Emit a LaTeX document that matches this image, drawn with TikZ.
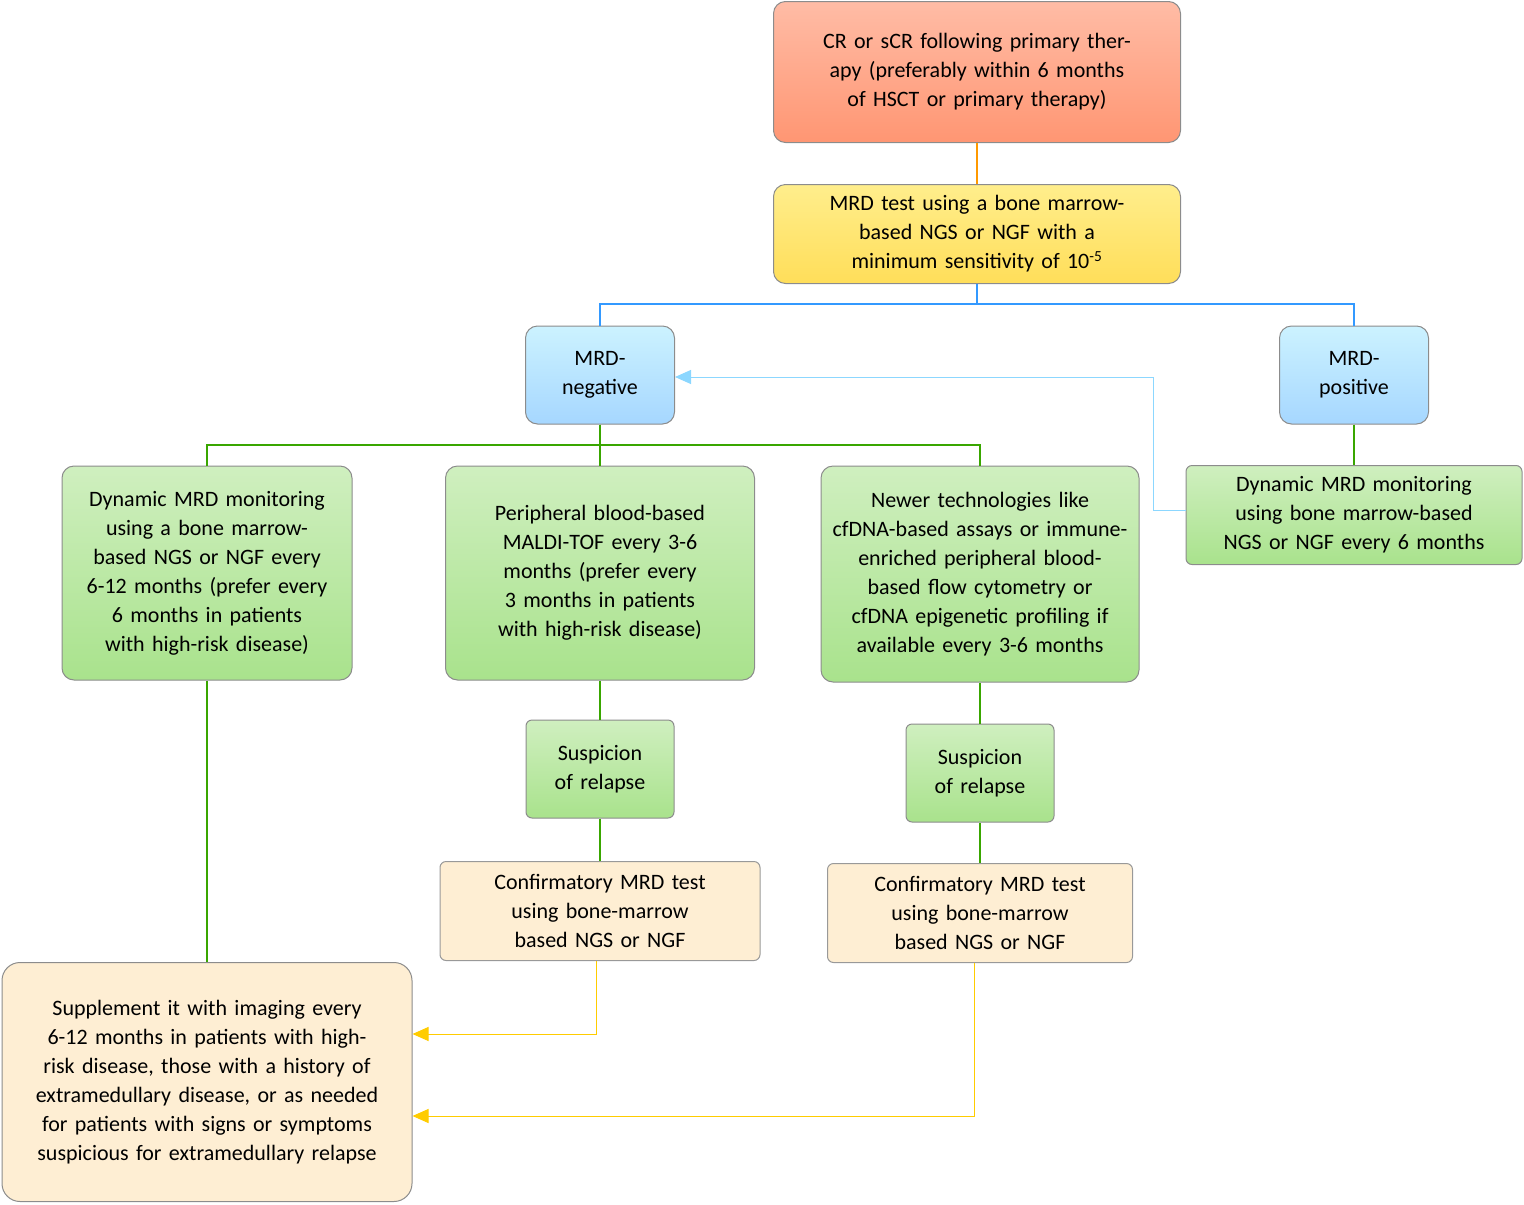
\documentclass[tikz,border=0pt]{standalone}
\usepackage{fontspec}
\setmainfont{Carlito}
\usetikzlibrary{arrows.meta}
\begin{document}
\begin{tikzpicture}[x=1pt,y=-1pt,
 box/.style={draw=black!45,line width=1pt,rounded corners=12pt,align=center,inner sep=0pt,
   font=\fontsize{22}{29}\selectfont},
 redb/.style={box,top color=red!50!orange!35!white,bottom color=red!50!orange!55!white},
 yelb/.style={box,top color=orange!30!yellow!45!white,bottom color=orange!40!yellow!65!white},
 blub/.style={box,top color=blue!25!cyan!20!white,bottom color=blue!45!cyan!35!white},
 grnb/.style={box,top color=green!50!olive!25!white,bottom color=green!50!olive!45!white},
 creb/.style={box,rounded corners=6pt,fill=yellow!20!orange!15!white,draw=black!40},
 gl/.style={draw=green!50!black!70!lime,line width=1.5pt},
 bl/.style={draw=blue!50!cyan!80,line width=1.5pt},
 yl/.style={draw=orange!40!yellow,line width=1pt,-{Triangle[width=14pt,length=16pt]}}]
\useasboundingbox (0,0) rectangle (1524,1205);
\node[redb,minimum width=407pt,minimum height=141pt,text width=310pt] (a) at (977,72) {CR or sCR following primary therapy (preferably within 6 months of HSCT or primary therapy)};
\node[yelb,minimum width=407pt,minimum height=99pt,text width=390pt] (b) at (977,234) {MRD test using a bone marrow-based NGS or NGF with a minimum sensitivity of 10\textsuperscript{-5}};
\node[blub,minimum width=149pt,minimum height=98pt,text width=120pt] (neg) at (600,375) {MRD-\\negative};
\node[blub,minimum width=149pt,minimum height=98pt,text width=120pt] (pos) at (1354,375) {MRD-\\positive};
\node[grnb,minimum width=290pt,minimum height=214pt,text width=270pt] (d1) at (207,573) {Dynamic MRD monitoring using a bone marrow-based NGS or NGF every 6-12 months (prefer every 6 months in patients with high-risk disease)};
\node[grnb,minimum width=309pt,minimum height=214pt,text width=270pt] (p) at (600,573) {Peripheral blood-based MALDI-TOF every 3-6 months (prefer every 3 months in patients with high-risk disease)};
\node[grnb,minimum width=318pt,minimum height=216pt,text width=300pt] (n) at (980,574) {Newer technologies like cfDNA-based assays or immune-enriched peripheral blood-based flow cytometry or cfDNA epigenetic profiling if available every 3-6 months};
\node[grnb,rounded corners=6pt,minimum width=336pt,minimum height=99pt,text width=320pt] (d2) at (1354,515) {Dynamic MRD monitoring using bone marrow-based NGS or NGF every 6 months};
\node[grnb,rounded corners=6pt,minimum width=148pt,minimum height=98pt,text width=140pt] (s1) at (600,769) {Suspicion of relapse};
\node[grnb,rounded corners=6pt,minimum width=148pt,minimum height=98pt,text width=140pt] (s2) at (980,773) {Suspicion of relapse};
\node[creb,minimum width=320pt,minimum height=99pt,text width=300pt] (c1) at (600,911) {Confirmatory MRD test using bone-marrow based NGS or NGF};
\node[creb,minimum width=305pt,minimum height=99pt,text width=300pt] (c2) at (980,913) {Confirmatory MRD test using bone-marrow based NGS or NGF};
\node[box,rounded corners=18pt,fill=yellow!20!orange!15!white,minimum width=410pt,minimum height=239pt,text width=380pt] (sup) at (207,1082) {Supplement it with imaging every 6-12 months in patients with high-risk disease, those with a history of extramedullary disease, or as needed for patients with signs or symptoms suspicious for extramedullary relapse};
\draw[draw=orange!80!yellow,line width=1.5pt] (a) -- (b);
\draw[bl] (b.south) |- (600,304) -- (neg.north);
\draw[bl] (b.south) |- (1354,304) -- (pos.north);
\draw[gl] (neg.south) |- (207,445) -- (d1.north);
\draw[gl] (neg.south) -- (p.north);
\draw[gl] (neg.south) |- (980,445) -- (n.north);
\draw[gl] (pos) -- (d2);
\draw[draw=blue!35!cyan!45,line width=1pt,-{Triangle[width=14pt,length=16pt]}] (d2.west|-0,510) -- (1153,510) |- (neg.east|-0,377);
\draw[gl] (d1) -- (sup);
\draw[gl] (p) -- (s1); \draw[gl] (s1) -- (c1);
\draw[gl] (n) -- (s2); \draw[gl] (s2) -- (c2);
\draw[yl] (596,961) -- (596,1034) -- (sup.east|-0,1034);
\draw[yl] (974,963) -- (974,1116) -- (sup.east|-0,1116);
\end{tikzpicture}
\end{document}
